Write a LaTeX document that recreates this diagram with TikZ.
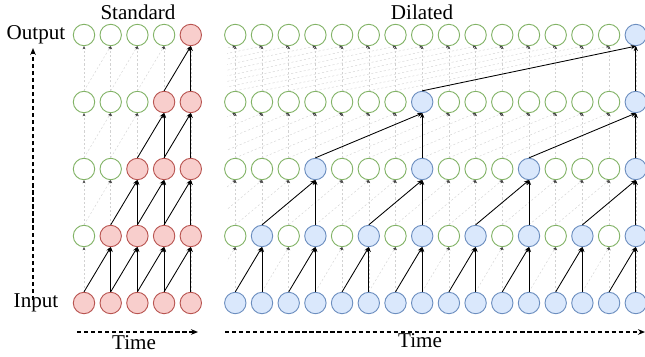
\documentclass[tikz,border=0pt]{standalone}
\usepackage{fontspec}
\setmainfont{Liberation Serif}
\usepackage{tikz}
\usetikzlibrary{arrows.meta}

\definecolor{idleline}{HTML}{82B366}
\definecolor{redfill}{HTML}{F8CECC}
\definecolor{redline}{HTML}{B85450}
\definecolor{bluefill}{HTML}{DAE8FC}
\definecolor{blueline}{HTML}{6C8EBF}

\tikzset{
  unit/.style={circle, minimum size=0.535cm, inner sep=0pt, line width=0.65pt},
  idle/.style={unit, draw=idleline, fill=white},
  hotred/.style={unit, draw=redline, fill=redfill},
  hotblue/.style={unit, draw=blueline, fill=bluefill},
  ghost/.style={unit},
  faint/.style={gray!35, line width=0.3pt, dash pattern=on 1.5pt off 1.5pt, -{Stealth[length=2.2pt,width=2pt,black!75]}},
  link/.style={black, line width=0.6pt, -{Stealth[length=3.5pt,width=3pt]}},
  axis/.style={black, line width=0.9pt, dash pattern=on 3pt off 2pt, -{Stealth[length=5pt,width=4pt]}},
  lbl/.style={font=\fontsize{15}{18}\selectfont}
}

\begin{document}
\begin{tikzpicture}[x=0.025cm, y=-0.025cm]
\useasboundingbox (0,0) rectangle (645,356);

% standard stack
\foreach \r in {0,...,4}
  \foreach \c in {0,...,4}{
    \ifnum\c<\r
      \node[idle] (s-\r-\c) at ({84+26.7*\c},{303-67*\r}) {};
    \else
      \node[hotred] (s-\r-\c) at ({84+26.7*\c},{303-67*\r}) {};
    \fi
  }

% dilated stack (negative columns are hidden)
\foreach \r in {0,...,4}
  \foreach \c in {-8,...,15}{
    \pgfmathtruncatemacro\p{2^\r}
    \pgfmathtruncatemacro\m{mod(\c+1,\p)}
    \ifnum\c<0
      \node[ghost] (d-\r-\c) at ({235.3+26.7*\c},{303-67*\r}) {};
    \else\ifnum\m=0
      \node[hotblue] (d-\r-\c) at ({235.3+26.7*\c},{303-67*\r}) {};
    \else
      \node[idle] (d-\r-\c) at ({235.3+26.7*\c},{303-67*\r}) {};
    \fi\fi
  }

% faint links
\foreach \r/\q in {1/0,2/1,3/2,4/3}
  \foreach \c in {0,...,4}{
    \draw[faint] (s-\q-\c.north) -- (s-\r-\c.south);
    \ifnum\c>0
      \pgfmathtruncatemacro\b{\c-1}
      \draw[faint] (s-\q-\b.north) -- (s-\r-\c.south);
    \fi
  }

\begin{scope}
\clip (227,0) rectangle (645,356);
\foreach \r/\q/\d in {1/0/1,2/1/2,3/2/4,4/3/8}
  \foreach \c in {0,...,15}{
    \pgfmathtruncatemacro\b{\c-\d}
    \draw[faint] (d-\q-\c.north) -- (d-\r-\c.south);
    \draw[faint] (d-\q-\b.north) -- (d-\r-\c.south);
  }
\end{scope}

% active links
\foreach \r/\q in {1/0,2/1,3/2,4/3}
  \foreach \c in {\r,...,4}{
    \pgfmathtruncatemacro\b{\c-1}
    \draw[link] (s-\q-\c.north) -- (s-\r-\c.south);
    \draw[link] (s-\q-\b.north) -- (s-\r-\c.south);
  }

\foreach \r/\q/\d in {1/0/1,2/1/2,3/2/4,4/3/8}
  \foreach \c in {0,...,15}{
    \pgfmathtruncatemacro\p{2*\d}
    \pgfmathtruncatemacro\m{mod(\c+1,\p)}
    \pgfmathtruncatemacro\b{\c-\d}
    \ifnum\m=0
      \draw[link] (d-\q-\c.north) -- (d-\r-\c.south);
      \draw[link] (d-\q-\b.north) -- (d-\r-\c.south);
    \fi
  }

% labels and axes
\node[lbl] (out) at (36,35) {Output};
\node[lbl] (in) at (36,303) {Input};
\node[lbl] (std) at (138,12) {Standard};
\node[lbl] (dil) at (422,12) {Dilated};
\node[lbl] (t1) at (134,343) {Time};
\node[lbl] (t2) at (420,341) {Time};

\coordinate (ya) at (33,300);
\coordinate (yb) at (33,48);
\coordinate (xa) at (77,332);
\coordinate (xb) at (198,332);
\coordinate (xc) at (225,332);
\coordinate (xd) at (645,332);
\draw[axis] (ya) -- (yb);
\draw[axis] (xa) -- (xb);
\draw[axis] (xc) -- (xd);
\end{tikzpicture}
\end{document}
